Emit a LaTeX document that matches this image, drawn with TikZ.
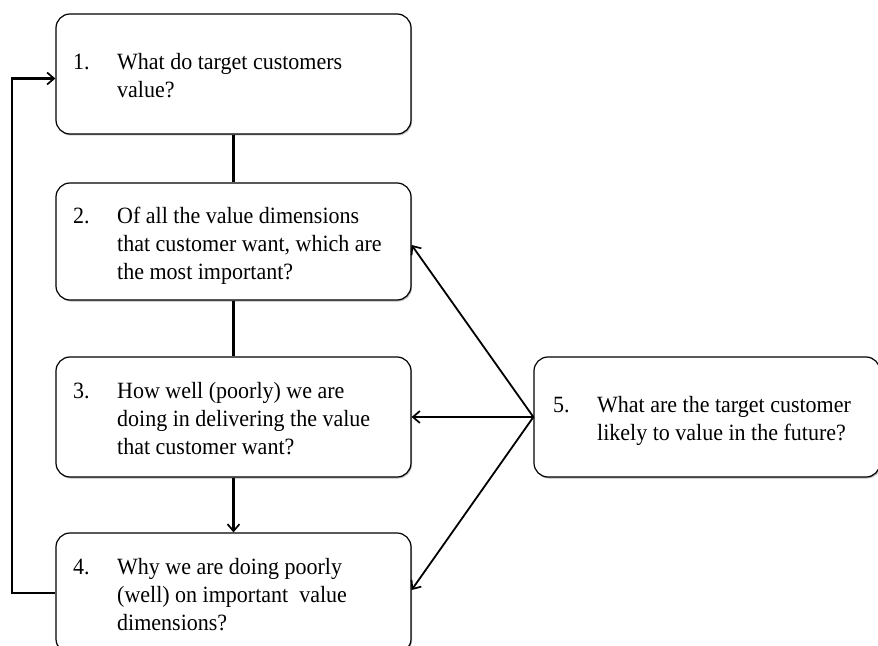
\documentclass[tikz,border=0pt]{standalone}
\usepackage{fontspec}
\setmainfont{Liberation Serif}
\usetikzlibrary{arrows.meta,calc,shadows}
\newcommand{\qlines}[2]{\scalebox{1}[1.06]{\begin{tabular}{@{}p{44bp}@{}l@{}}#1\end{tabular}}}
\begin{document}
\begin{tikzpicture}[x=1bp,y=-1bp,
  qbox/.style={draw=black, line width=1.2bp, rounded corners=14bp, fill=white,
    minimum width=355bp, minimum height=120bp, inner sep=0pt,
    drop shadow={shadow xshift=1bp, shadow yshift=-1.5bp, opacity=0.45, fill=black!60}},
  qtext/.style={anchor=west, inner sep=0pt, font=\fontsize{22bp}{26bp}\selectfont},
  link/.style={line width=2.1bp},
  feed/.style={line width=1.8bp},
  tip/.style={-{Straight Barb[length=7bp,width=12bp,line width=1.7bp]}}
]
\useasboundingbox (0,0) rectangle (878,646);
\clip (0,0) rectangle (878,646);

% question boxes
\node[qbox] (q1) at (233.5,74) {};
\node[qbox, minimum height=117bp] (q2) at (233.5,241.5) {};
\node[qbox] (q3) at (233.5,417) {};
\node[qbox] (q4) at (233.5,593) {};
\node[qbox, minimum width=346bp] (q5) at (707,417) {};

% question texts
\node[qtext] (t1) at (73,78) {\qlines{1.&What do target customers\\&value?}{}};
\node[qtext] (t2) at (73,246) {\qlines{2.&Of all the value dimensions\\&that customer want, which are\\&the most important?}{}};
\node[qtext] (t3) at (73,421) {\qlines{3.&How well (poorly) we are\\&doing in delivering the value\\&that customer want?}{}};
\node[qtext] (t4) at (73,597) {\qlines{4.&Why we are doing poorly\\&(well) on important\ \ value\\&dimensions?}{}};
\node[qtext] (t5) at (553,421) {\qlines{5.&What are the target customer\\&likely to value in the future?}{}};

% main chain
\draw[link] (q1.south) -- (q2.north);
\draw[link] (q2.south) -- (q3.north);
\draw[link, tip] (q3.south) -- (q4.north);

% feedback loop from 4 back to 1
\draw[link, tip] (q4.west) -- ++(-43,0) |- ($(q1.west)+(0,4.5)$);

% future values feeding 2, 3 and 4
\draw[feed, tip] (q5.west) -- ($(q2.east)+(0,3.5)$);
\draw[feed, tip] (q5.west) -- (q3.east);
\draw[feed, tip] (q5.west) -- ($(q4.east)+(0,-3)$);
\end{tikzpicture}
\end{document}
